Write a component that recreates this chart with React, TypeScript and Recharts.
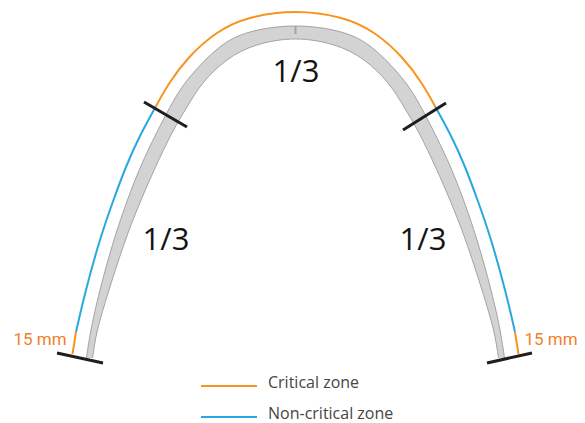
import React from "react";
import { ComposedChart, XAxis, YAxis, Line, Area, ReferenceDot } from "recharts";

type Pt = { x: number; y: number };
const toPts = (arr: number[][]): Pt[] => arr.map(([x, y]) => ({ x, y }));

// arch band edges (x right, y down)
const bandOuter = [
  [86.5, 358], [91, 330], [100, 290], [114, 240], [127.5, 200], [140.5, 167], [156.5, 133],
  [174, 100], [191.5, 75], [218.5, 48], [250, 32], [295.5, 26], [341, 32], [372.5, 48],
  [399.5, 75], [417, 100], [434.5, 133], [450.5, 167], [463.5, 200], [477, 240], [491, 290],
  [500, 330], [504.5, 358],
];
const bandInner = [
  [92.5, 358], [97.5, 330], [109, 290], [125.5, 240], [141.5, 199], [155.5, 167], [172, 133],
  [187, 107], [203, 83], [227, 60], [257, 45], [295.5, 39], [334, 45], [364, 60],
  [388, 83], [404, 107], [419, 133], [435.5, 167], [449.5, 199], [465.5, 240], [482, 290],
  [493.5, 330], [498.5, 358],
];
const bandFoot = 358;

// zone lines
const criticalTop = [
  [155.5, 107], [169.5, 83], [189.5, 57], [217, 33], [250, 18], [295.5, 12], [341, 18],
  [374, 33], [401.5, 57], [421.5, 83], [435.5, 107],
];
const nonCriticalLeft = [[155.5, 107], [139.5, 137], [126, 167], [113.5, 200], [100, 240], [86, 290], [76, 332]];
const nonCriticalRight = [[435.5, 107], [451.5, 137], [465, 167], [477.5, 200], [491, 240], [505, 290], [515, 332]];
const criticalEndLeft = [[76, 332], [72.5, 354]];
const criticalEndRight = [[515, 332], [518.5, 354]];

// boundary marks
const marks = [
  [[144, 102], [187, 127]],
  [[403, 130], [446, 103]],
  [[57, 353], [103, 363]],
  [[487, 363], [532, 353]],
];
const apexMark = [[295.5, 26], [295.5, 34]];

const legendCritical = [[201, 386], [257, 386]];
const legendNonCritical = [[201, 417], [257, 417]];

const thirdLabels = ["1/3", "1/3", "1/3"];
const thirdSpots = [[296, 70.5], [166, 238.5], [423, 238.5]];
const mmLabels = ["15 mm", "15 mm"];
const mmSpots = [[40, 339], [551, 339]];
const legendNames = ["Critical zone", "Non-critical zone"];
const legendSpots = [[263, 382], [263, 413]];

const ORANGE = "#F7941D";
const BLUE = "#29A8E0";
const MM_ORANGE = "#EF7F2C";
const BAND_FILL = "#D3D3D3";
const BAND_EDGE = "#A3A3A3";

const zoneLine = (key: string, data: number[][], color: string, type: any = "natural") => (
  <Line
    key={key}
    data={toPts(data)}
    dataKey="y"
    type={type}
    stroke={color}
    strokeWidth={2}
    dot={false}
    activeDot={false}
    legendType="none"
    isAnimationActive={false}
  />
);

export default function App() {
  return (
    <div style={{ position: "absolute", left: 0, top: 0, background: "#fff" }}>
      <ComposedChart width={585} height={423} margin={{ top: 0, right: 0, bottom: 0, left: 0 }}>
        <XAxis type="number" dataKey="x" domain={[0, 585]} hide allowDataOverflow />
        <YAxis type="number" domain={[0, 423]} reversed hide allowDataOverflow />
        {/* gray band: fill under the outer edge, then blank out under the inner edge */}
        <Area
          data={toPts(bandOuter)}
          dataKey="y"
          type="natural"
          baseValue={bandFoot}
          fill={BAND_FILL}
          fillOpacity={1}
          stroke={BAND_EDGE}
          strokeWidth={1}
          dot={false}
          activeDot={false}
          legendType="none"
          isAnimationActive={false}
        />
        <Area
          data={toPts(bandInner)}
          dataKey="y"
          type="natural"
          baseValue={bandFoot}
          fill="#FFFFFF"
          fillOpacity={1}
          stroke={BAND_EDGE}
          strokeWidth={1}
          dot={false}
          activeDot={false}
          legendType="none"
          isAnimationActive={false}
        />
        {zoneLine("apex", apexMark, BAND_EDGE, "linear")}
        {zoneLine("ct", criticalTop, ORANGE)}
        {zoneLine("nl", nonCriticalLeft, BLUE)}
        {zoneLine("nr", nonCriticalRight, BLUE)}
        {zoneLine("cl", criticalEndLeft, ORANGE, "linear")}
        {zoneLine("cr", criticalEndRight, ORANGE, "linear")}
        {marks.map((m, i) => (
          <Line
            key={`mark-${i}`}
            data={toPts(m)}
            dataKey="y"
            type="linear"
            stroke="#1E1E1E"
            strokeWidth={3}
            dot={false}
            activeDot={false}
            legendType="none"
            isAnimationActive={false}
          />
        ))}
        {zoneLine("lc", legendCritical, ORANGE, "linear")}
        {zoneLine("ln", legendNonCritical, BLUE, "linear")}
        {thirdLabels.map((t, i) => (
          <ReferenceDot
            key={`third-${i}`}
            x={thirdSpots[i][0]}
            y={thirdSpots[i][1]}
            r={0}
            fill="none"
            stroke="none"
            label={{ value: t, position: "center", fill: "#141414", fontSize: 31, fontFamily: "Open Sans" }}
          />
        ))}
        {mmLabels.map((t, i) => (
          <ReferenceDot
            key={`mm-${i}`}
            x={mmSpots[i][0]}
            y={mmSpots[i][1]}
            r={0}
            fill="none"
            stroke="none"
            label={{ value: t, position: "center", fill: MM_ORANGE, fontSize: 17, fontFamily: "Roboto" }}
          />
        ))}
        {legendNames.map((t, i) => (
          <ReferenceDot
            key={`leg-${i}`}
            x={legendSpots[i][0]}
            y={legendSpots[i][1]}
            r={0}
            fill="none"
            stroke="none"
            label={{ value: t, position: "right", offset: 5, fill: "#454545", fontSize: 16, fontFamily: "Open Sans" }}
          />
        ))}
      </ComposedChart>
    </div>
  );
}
